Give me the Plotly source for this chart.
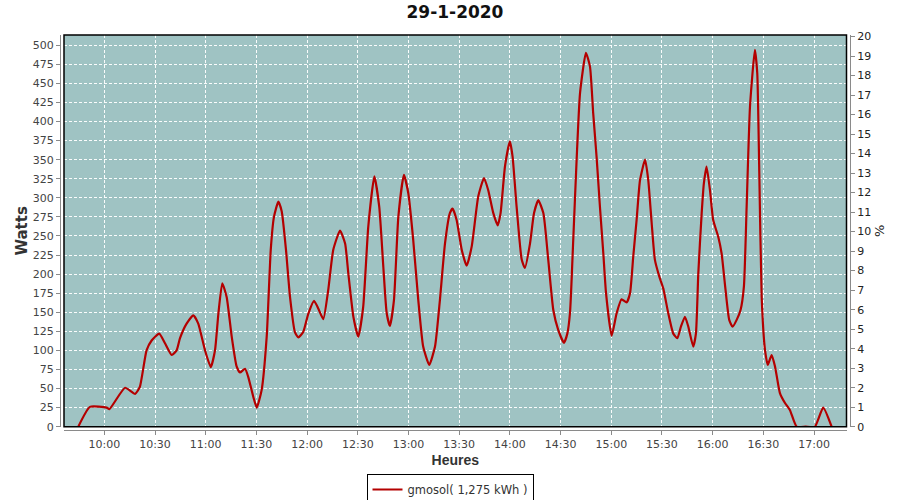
import plotly.graph_objects as go

DAY = "2020-01-29 "

times = [
    "09:44:36", "09:51:30", "10:01:24", "10:03:00", "10:12:18", "10:18:12", "10:21:00",
    "10:25:00", "10:28:00", "10:32:30", "10:36:00", "10:39:54", "10:42:48", "10:44:48",
    "10:48:42", "10:52:42", "10:55:36", "10:59:36", "11:03:00", "11:05:30", "11:07:30",
    "11:09:48", "11:12:24", "11:15:24", "11:18:18", "11:20:18", "11:23:18", "11:25:12",
    "11:28:12", "11:30:12", "11:33:06", "11:36:06", "11:38:30", "11:40:24", "11:43:00",
    "11:45:00", "11:47:30", "11:49:54", "11:52:48", "11:54:48", "11:57:42", "12:00:42",
    "12:04:06", "12:06:36", "12:09:36", "12:12:30", "12:15:30", "12:19:30", "12:22:30",
    "12:24:24", "12:27:24", "12:30:18", "12:33:12", "12:36:12", "12:39:48", "12:42:42",
    "12:45:06", "12:47:06", "12:49:00", "12:51:24", "12:54:00", "12:57:18", "12:59:54",
    "13:02:48", "13:05:48", "13:08:42", "13:12:18", "13:15:42", "13:18:36", "13:21:36",
    "13:24:30", "13:26:06", "13:28:30", "13:31:30", "13:34:24", "13:37:24", "13:41:18",
    "13:44:42", "13:47:12", "13:50:12", "13:52:48", "13:54:30", "13:57:06", "14:00:00",
    "14:01:36", "14:04:00", "14:07:00", "14:08:54", "14:11:54", "14:14:18", "14:16:48",
    "14:19:48", "14:22:42", "14:25:42", "14:28:36", "14:32:00", "14:34:00", "14:35:36",
    "14:37:30", "14:39:30", "14:41:30", "14:45:00", "14:47:24", "14:49:18", "14:51:18",
    "14:53:18", "14:55:18", "14:56:54", "15:00:12", "15:03:12", "15:06:06", "15:09:06",
    "15:11:06", "15:13:00", "15:15:00", "15:17:00", "15:20:00", "15:21:54", "15:23:54",
    "15:25:48", "15:28:24", "15:30:48", "15:33:42", "15:36:42", "15:39:06", "15:41:12",
    "15:43:36", "15:45:36", "15:48:30", "15:50:06", "15:51:30", "15:53:30", "15:54:48",
    "15:56:24", "15:58:24", "16:00:18", "16:03:18", "16:05:18", "16:07:12", "16:09:48",
    "16:11:48", "16:14:12", "16:16:30", "16:18:30", "16:20:06", "16:22:06", "16:25:00",
    "16:26:24", "16:27:36", "16:29:00", "16:31:00", "16:32:36", "16:34:54", "16:36:54",
    "16:39:48", "16:42:48", "16:45:42", "16:49:42", "16:55:00", "17:00:30", "17:05:24",
    "17:10:24",
]

watts = [
    0, 26, 25, 23, 51, 43, 52,
    100, 113, 122, 109, 94, 100, 116,
    135, 146, 135, 100, 78, 100, 148,
    188, 170, 118, 79, 71, 76, 65,
    39, 25, 48, 118, 232, 275, 295,
    282, 232, 170, 124, 117, 124, 148,
    165, 155, 141, 179, 232, 257, 240,
    201, 144, 118, 157, 262, 328, 288,
    210, 149, 132, 166, 275, 330, 306,
    245, 166, 105, 81, 105, 166, 240,
    280, 286, 271, 232, 211, 236, 302,
    326, 310, 280, 264, 280, 341, 374,
    354, 288, 219, 208, 240, 280, 297,
    280, 219, 153, 127, 110, 122, 150,
    245, 350, 437, 490, 472, 411, 354,
    288, 227, 175, 119, 149, 167, 163,
    175, 223, 271, 323, 350, 323, 267,
    219, 197, 181, 149, 122, 116, 131,
    144, 131, 105, 122, 201, 280, 319,
    341, 310, 271, 249, 227, 188, 140,
    131, 140, 153, 184, 288, 420, 494,
    463, 332, 170, 100, 81, 94, 79,
    44, 31, 22, 0, 0, 0, 25,
    0,
]

title_text = "29-1-2020"
series_name = "gmosol( 1,275 kWh )"
x_title = "Heures"
y_title = "Watts"
y2_title = "%"

x_range = ["09:36:09", "17:19:12"]
y_range = [0, 513.4]
y2_range = [0, 20.08]

x = [DAY + t for t in times]

FONT = "DejaVu Sans"
GRID = "rgba(255,255,255,0.95)"
AXIS = "#8a8a8a"
TXT = "#444444"

fig = go.Figure()
fig.add_trace(go.Scatter(
    x=x, y=watts, mode="lines", name=series_name,
    line=dict(color="#b40000", width=2.2, shape="spline", smoothing=0.5),
))
# invisible trace so the right-hand percent axis is drawn
fig.add_trace(go.Scatter(
    x=[x[0]], y=[0], yaxis="y2", mode="markers", showlegend=False,
    marker=dict(opacity=0), hoverinfo="skip",
))

W, H = 900, 500
ml, mr, mt, mb = 60, 50, 35, 70
pw = W - ml - mr
ph = H - mt - mb

fig.update_layout(
    width=W, height=H,
    margin=dict(l=ml, r=mr, t=mt, b=mb, autoexpand=False),
    paper_bgcolor="white",
    plot_bgcolor="#9fc3c3",
    font=dict(family=FONT, size=11, color=TXT),
    title=dict(text=title_text, x=0.5, xref="paper", xanchor="center",
               y=1 - 12.5 / H, yref="container", yanchor="middle",
               font=dict(family=FONT, size=17, color="#111111", weight="bold")),
    showlegend=True,
    legend=dict(orientation="h", x=(450 - ml) / pw, xanchor="center",
                y=-(474 - (H - mb)) / ph, yanchor="top",
                bordercolor="#000000", borderwidth=1, bgcolor="white",
                font=dict(family=FONT, size=11.5, color="#333333"),
                itemwidth=30),
    xaxis=dict(
        type="date", range=[DAY + x_range[0], DAY + x_range[1]],
        domain=[4 / pw, 786.5 / pw], anchor="free", position=0,
        tick0=DAY + "10:00", dtick=30 * 60 * 1000, tickformat="%H:%M",
        ticks="outside", ticklen=4, tickcolor=AXIS, showline=True, linecolor=AXIS,
        linewidth=1, showgrid=True, gridcolor=GRID, griddash="3px,2px", gridwidth=1,
        zeroline=False, tickfont=dict(family=FONT, size=11, color=TXT),
        title=dict(text=x_title, standoff=4,
                   font=dict(family="Liberation Sans", size=14, color="#333333",
                             weight="bold")),
    ),
    yaxis=dict(
        range=y_range, domain=[3.3 / ph, 1], anchor="free", position=0,
        tick0=0, dtick=25, ticks="outside", ticklen=4, tickcolor=AXIS,
        showline=True, linecolor=AXIS, linewidth=1,
        showgrid=True, gridcolor=GRID, griddash="3px,2px", gridwidth=1, zeroline=False,
        tickfont=dict(family=FONT, size=11, color=TXT),
        title=dict(text=y_title, standoff=0,
                   font=dict(family=FONT, size=15, color="#333333", weight="bold")),
    ),
    yaxis2=dict(
        range=y2_range, overlaying="y", side="right", anchor="free", position=1,
        tick0=0, dtick=1, ticks="outside", ticklen=4, tickcolor=AXIS,
        showline=True, linecolor=AXIS, linewidth=1, showgrid=False, zeroline=False,
        tickfont=dict(family=FONT, size=11, color="#222222"),
        title=dict(text=y2_title, standoff=4,
                   font=dict(family=FONT, size=13, color="#222222")),
    ),
)

fig.add_shape(type="rect", xref="x domain", yref="y domain", x0=0, x1=1, y0=0, y1=1,
              line=dict(color="#000000", width=1.5), layer="above")

fig.write_html("out.html", config={"displayModeBar": False},
               post_script="document.body.style.margin='0';")
